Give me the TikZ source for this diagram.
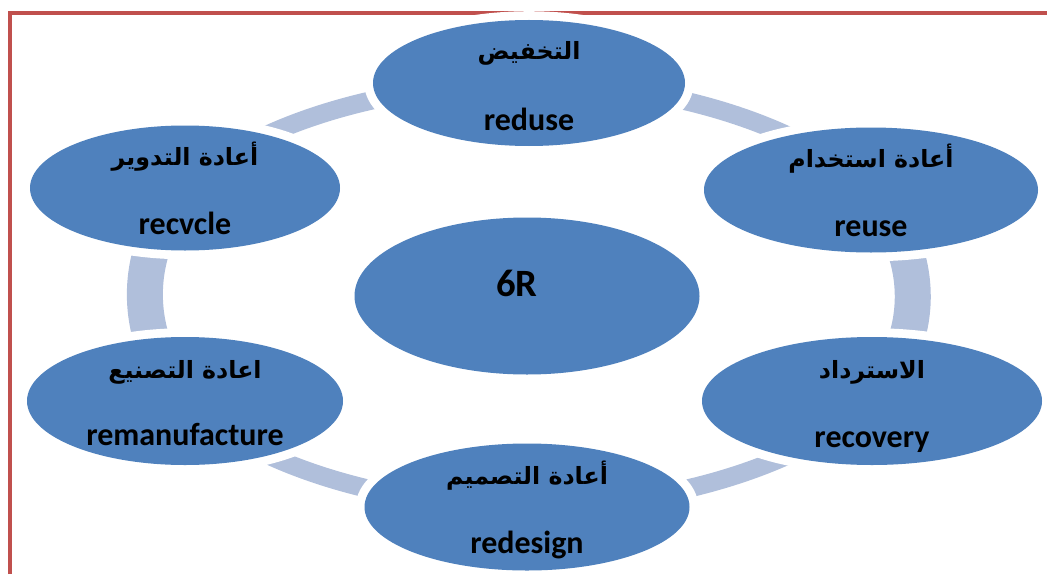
\documentclass[tikz,border=0pt]{standalone}
\usepackage{fontspec}
\setmainfont{Carlito}
\newfontfamily\arabicfont[Script=Arabic]{DejaVu Sans}
\TeXXeTstate=1
\usetikzlibrary{shapes.geometric,backgrounds}
\definecolor{cycleblue}{RGB}{79,129,189}
\definecolor{ringblue}{RGB}{176,191,219}
\definecolor{framered}{RGB}{192,80,77}

\begin{document}
\begin{tikzpicture}[
  blob/.style={ellipse, fill=cycleblue, inner sep=0pt,
               preaction={draw=white, line width=10pt}},
  ar/.style={anchor=base, font=\arabicfont\bfseries\fontsize{13.5}{16}\selectfont},
  en/.style={anchor=base, font=\bfseries\fontsize{18.2}{20}\selectfont},
  ring/.style={draw=ringblue, line width=0.37cm},
  ring side/.style={ring, line width=0.72cm}
]
  \useasboundingbox (0,0) rectangle (20.94,11.48);

  % page frame, open at the right and at the bottom
  \draw[framered, line width=0.08cm] (0.2,0) -- (0.2,11.22) -- (20.94,11.22);

  % the six stages and the centre
  \node[blob, minimum width=6.24cm, minimum height=2.52cm] (reduce)   at (10.58,9.82) {};
  \node[blob, minimum width=6.68cm, minimum height=2.50cm] (reuse)    at (17.42,7.68) {};
  \node[blob, minimum width=6.80cm, minimum height=2.56cm] (recovery) at (17.44,3.46) {};
  \node[blob, minimum width=6.50cm, minimum height=2.54cm] (redesign) at (10.54,1.34) {};
  \node[blob, minimum width=6.32cm, minimum height=2.56cm] (reman)    at (3.70,3.46) {};
  \node[blob, minimum width=6.20cm, minimum height=2.50cm] (recycle)  at (3.70,7.72) {};
  \node[blob, minimum width=6.90cm, minimum height=3.14cm] (core)     at (10.54,5.56) {};

  % labels: arabic above, english below
  \node[ar] (reduce-ar)   at ([yshift=0.46cm]reduce.center)   {\beginR التخفيض\endR};
  \node[en] (reduce-en)   at ([yshift=-0.95cm]reduce.center) {reduse};
  \node[ar] (reuse-ar)    at ([yshift=0.46cm]reuse.center)    {\beginR أعادة استخدام\endR};
  \node[en] (reuse-en)    at ([yshift=-0.92cm]reuse.center)  {reuse};
  \node[ar] (recovery-ar) at ([yshift=0.46cm]recovery.center) {\beginR الاسترداد\endR};
  \node[en] (recovery-en) at ([yshift=-0.92cm]recovery.center) {recovery};
  \node[ar] (redesign-ar) at ([yshift=0.46cm]redesign.center) {\beginR أعادة التصميم\endR};
  \node[en] (redesign-en) at ([yshift=-0.92cm]redesign.center) {redesign};
  \node[ar] (reman-ar)    at ([yshift=0.46cm]reman.center)    {\beginR اعادة التصنيع\endR};
  \node[en] (reman-en)    at ([yshift=-0.88cm]reman.center)  {remanufacture};
  \node[ar] (recycle-ar)  at ([yshift=0.46cm]recycle.center)  {\beginR أعادة التدوير\endR};
  \node[en] (recycle-en)  at ([yshift=-0.92cm]recycle.center) {recvcle};
  \node[en, font=\bfseries\fontsize{22}{24}\selectfont] (core-en)
    at ([xshift=-0.2cm]core.center) {6R};

  % the ring behind the ellipses
  \begin{pgfonlayer}{background}
    \draw[ring] (reduce.center) .. controls +(2.74,0) and +(-1.37,1.31) .. (reuse.center);
    \draw[ring side] (reuse.center) .. controls +(1.1,-1.31) and +(1.1,1.31) .. (recovery.center);
    \draw[ring] (recovery.center) .. controls +(-1.37,-1.31) and +(2.74,0) .. (redesign.center);
    \draw[ring] (redesign.center) .. controls +(-2.74,0) and +(1.37,-1.31) .. (reman.center);
    \draw[ring side] (reman.center) .. controls +(-1.07,1.31) and +(-1.07,-1.31) .. (recycle.center);
    \draw[ring] (recycle.center) .. controls +(1.37,1.31) and +(-2.74,0) .. (reduce.center);
  \end{pgfonlayer}
\end{tikzpicture}
\end{document}
